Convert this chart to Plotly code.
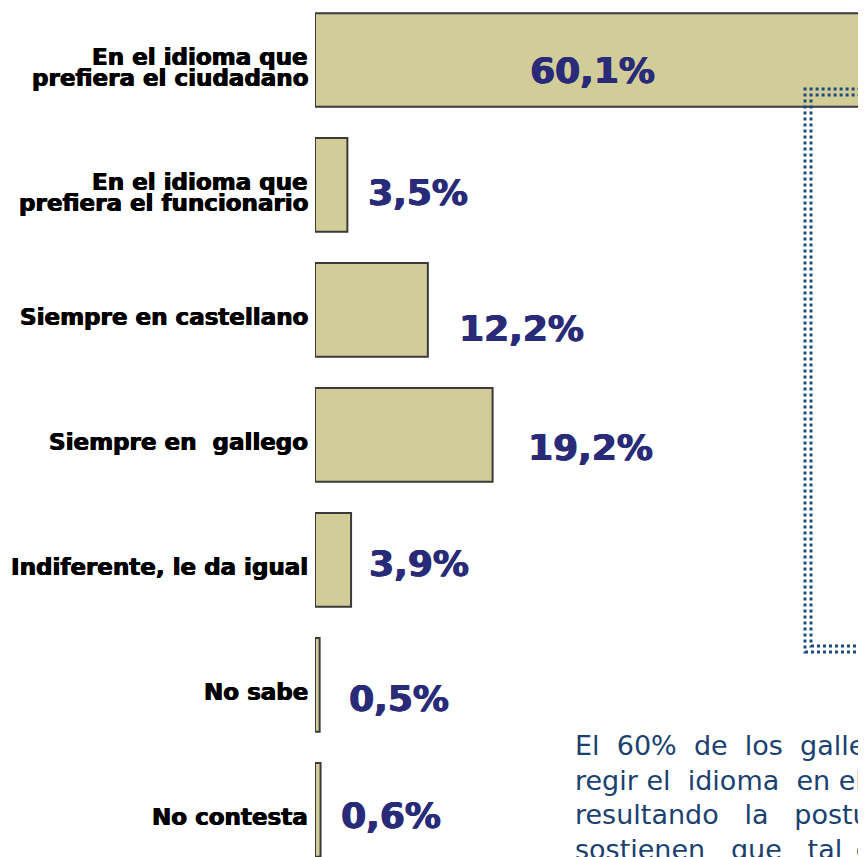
import plotly.graph_objects as go

categories = [
    "En el idioma que<br>prefiera el ciudadano",
    "En el idioma que<br>prefiera el funcionario",
    "Siempre en castellano",
    "Siempre en\u00a0 gallego",
    "Indiferente, le da igual",
    "No sabe",
    "No contesta",
]
values = [60.1, 3.5, 12.2, 19.2, 3.9, 0.5, 0.6]
value_labels = ["60,1%", "3,5%", "12,2%", "19,2%", "3,9%", "0,5%", "0,6%"]

note_lines = [
    "El\u00a0\u00a060%\u00a0\u00a0de\u00a0\u00a0los\u00a0\u00a0galle",
    "regir\u00a0el\u00a0\u00a0idioma\u00a0\u00a0en\u00a0el",
    "resultando\u00a0\u00a0\u00a0la\u00a0\u00a0\u00a0postu",
    "sostienen\u00a0\u00a0\u00a0que\u00a0\u00a0\u00a0tal\u2002c",
]

# label styling offsets (pixels)
label_dx = [0, 19, 29, 33, 16, 27, 18]
label_dy = [-10, -7, -18, -12, -3, -13, -5]

OFF = 8           # page body margin
W, H = 866 - OFF, 857 - OFF
L = 315 - OFF
PXU = 9.25        # pixels per percent

def px_x(p):
    return (p - OFF - L) / (W - L)

def px_y(p):
    return 1 - (p - OFF) / H

fig = go.Figure()
fig.add_trace(go.Bar(
    x=values, y=categories, orientation="h",
    marker=dict(color="#d2cd98", line=dict(color="#3a3a3a", width=2)),
    width=0.75, hoverinfo="skip",
))

cat_font = dict(family="DejaVu Sans", size=23, color="#000000", weight="bold",
                shadow="0.6px 0 0 #000, -0.4px 0 0 #000")
val_font = dict(family="DejaVu Sans", size=36, color="#292b78", weight="bold",
                shadow="0.7px 0 0 #292b78, -0.5px 0 0 #292b78")

ann = []
for i, (cat, v, lab) in enumerate(zip(categories, values, value_labels)):
    lines = cat.split("<br>")
    n = len(lines)
    for j, line in enumerate(lines):
        ann.append(dict(
            x=0, xref="paper", y=cat, yref="y", text=line, showarrow=False,
            xanchor="right", yanchor="middle", xshift=-5,
            yshift=-7 - (j - (n - 1) / 2) * 21,
            font=cat_font,
        ))
    if v > 30:
        ann.append(dict(
            x=v / 2, xref="x", y=cat, yref="y", text=lab, showarrow=False,
            xanchor="center", yanchor="middle", yshift=label_dy[i],
            font=val_font,
        ))
    else:
        ann.append(dict(
            x=v, xref="x", y=cat, yref="y", text=lab, showarrow=False,
            xanchor="left", yanchor="middle", xshift=label_dx[i], yshift=label_dy[i],
            font=val_font,
        ))

for k, line in enumerate(note_lines):
    ann.append(dict(
        x=px_x(573), xref="paper", y=px_y(728 + 34.7 * k), yref="paper",
        text=line, showarrow=False, align="left",
        xanchor="left", yanchor="top",
        font=dict(family="DejaVu Sans", size=27, color="#1a416f"),
    ))

shapes = []
for left, top, bottom in [(805, 89, 652), (811, 95, 646)]:
    shapes.append(dict(
        type="rect", xref="paper", yref="paper",
        x0=px_x(left), x1=1.3, y0=px_y(bottom), y1=px_y(top),
        line=dict(color="#1d4a7c", width=3, dash="dot"),
        fillcolor="rgba(0,0,0,0)", layer="above",
    ))

fig.update_layout(
    width=W, height=H,
    margin=dict(l=L, r=0, t=0, b=0),
    paper_bgcolor="white", plot_bgcolor="white",
    showlegend=False,
    xaxis=dict(range=[0, (W - L) / PXU], visible=False, fixedrange=True),
    yaxis=dict(range=[(857 - 60) / 125, (OFF - 60) / 125], showticklabels=False,
               showgrid=False, zeroline=False, showline=False, ticks="",
               fixedrange=True, categoryorder="array", categoryarray=categories),
    annotations=ann,
    shapes=shapes,
)

fig.write_html("out.html")
